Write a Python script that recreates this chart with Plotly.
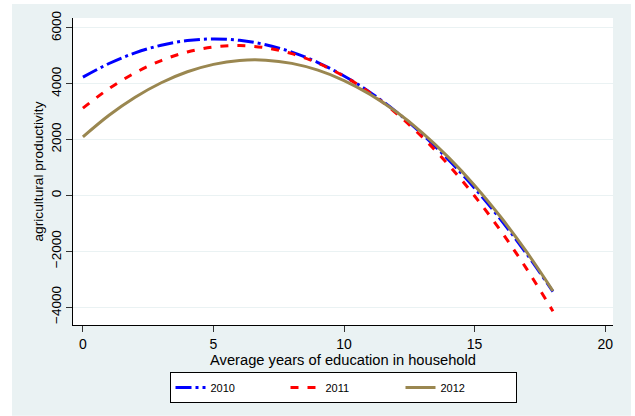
import plotly.graph_objects as go

educ = list(range(0, 19))
prod_2010 = [4238, 4727, 5109, 5383, 5549, 5607, 5557, 5400, 5135, 4762,
             4281, 3692, 2996, 2192, 1280, 260, -867, -2103, -3446]
prod_2011 = [3130, 3827, 4395, 4833, 5141, 5320, 5369, 5289, 5079, 4739,
             4270, 3671, 2943, 2085, 1098, -20, -1266, -2643, -4149]
prod_2012 = [2095, 2870, 3517, 4037, 4430, 4696, 4835, 4846, 4731, 4488,
             4117, 3620, 2996, 2244, 1365, 359, -775, -2035, -3423]
x_ticks = [0, 5, 10, 15, 20]
y_ticks = [-4000, -2000, 0, 2000, 4000, 6000]

BG = "#EAF2F3"
FONT = "Liberation Sans, Arial, sans-serif"

fig = go.Figure()
fig.add_trace(go.Scatter(x=educ, y=prod_2010, mode="lines", name="2010",
                         line=dict(color="#0000FF", width=3, dash="16px,4px,3px,4px", shape="spline")))
fig.add_trace(go.Scatter(x=educ, y=prod_2011, mode="lines", name="2011",
                         line=dict(color="#FF0000", width=3, dash="8px,9px", shape="spline")))
fig.add_trace(go.Scatter(x=educ, y=prod_2012, mode="lines", name="2012",
                         line=dict(color="#9A8750", width=3, shape="spline")))

# outer light background panel
fig.add_shape(type="rect", xref="paper", yref="paper", x0=-0.113, x1=1.0333, y0=-0.296, y1=1.0456,
              fillcolor=BG, line=dict(width=0), layer="below")
fig.add_shape(type="rect", xref="paper", yref="paper", x0=0, x1=1, y0=0, y1=1,
              fillcolor="white", line=dict(width=0), layer="below")

fig.update_layout(
    width=635, height=416,
    margin=dict(l=73, r=22, t=18, b=91, autoexpand=False),
    paper_bgcolor="white", plot_bgcolor="rgba(0,0,0,0)",
    font=dict(family=FONT, size=13, color="black"),
    legend=dict(orientation="h", x=0.5, xanchor="center", y=-0.153, yanchor="top",
                bgcolor="white", bordercolor="black", borderwidth=1,
                font=dict(size=11), entrywidth=70, traceorder="normal"),
    xaxis=dict(range=[-0.38, 20.3], tickvals=x_ticks, showgrid=False, zeroline=False,
               automargin=False, tickfont=dict(size=14),
               showline=True, linecolor="black", linewidth=1, ticks="outside", ticklen=6,
               tickcolor="#333333", title=dict(text="Average years of education in household",
                                                 standoff=1, font=dict(size=14.7))),
    yaxis=dict(range=[-4643, 6357], tickvals=y_ticks, showgrid=True, gridcolor=BG, gridwidth=1,
               automargin=False, tickfont=dict(size=13.5),
               zeroline=False, showline=True, linecolor="black", linewidth=1, ticks="outside",
               ticklen=6, tickcolor="#333333", tickangle=-90,
               title=dict(text="agricultural productivity", standoff=1, font=dict(size=13.7))),
)

fig.write_html("out.html", config={"displayModeBar": False},
               post_script="document.body.style.margin='0';document.body.style.overflow='hidden';")
